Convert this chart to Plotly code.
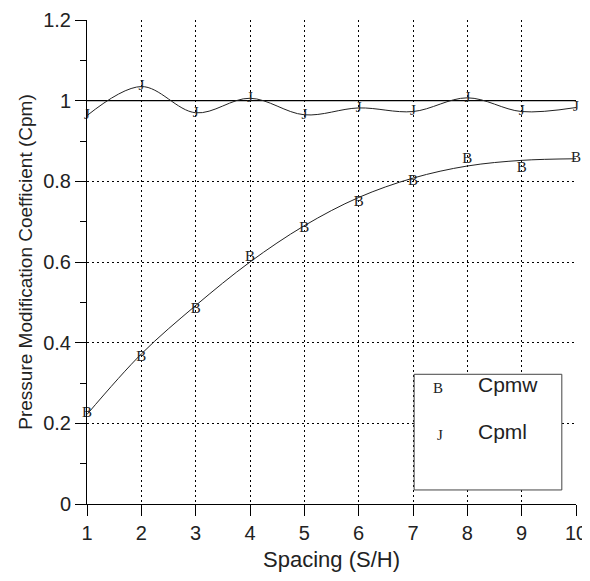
import plotly.graph_objects as go

# spacing values (S/H)
spacing = [1, 2, 3, 4, 5, 6, 7, 8, 9, 10]

# measured points
cpmw = [0.225, 0.365, 0.482, 0.613, 0.684, 0.748, 0.800, 0.855, 0.832, 0.858]
cpml = [0.963, 1.035, 0.970, 1.006, 0.965, 0.982, 0.973, 1.007, 0.973, 0.983]

# fitted curve for cpmw
cpmw_fit = [0.222, 0.372, 0.492, 0.600, 0.690, 0.760, 0.808, 0.838, 0.852, 0.856]

ref_x = [1, 10]
ref_y = [1, 1]

font_sans = "Liberation Sans, Arial, sans-serif"
font_mark = "Liberation Serif, Times New Roman, serif"
ink = "#222222"

fig = go.Figure()

# reference line at Cpm = 1
fig.add_trace(go.Scatter(x=ref_x, y=ref_y, mode="lines",
                         line=dict(color="black", width=1.2), showlegend=False))

# smooth curves
fig.add_trace(go.Scatter(x=spacing, y=cpmw_fit, mode="lines", line_shape="spline",
                         line=dict(color=ink, width=1), showlegend=False))
fig.add_trace(go.Scatter(x=spacing, y=cpml, mode="lines", line_shape="spline",
                         line=dict(color=ink, width=1), showlegend=False))

# letter markers
fig.add_trace(go.Scatter(x=spacing, y=cpmw, mode="text", text=["B"] * len(spacing),
                         textfont=dict(family=font_mark, size=15, color=ink),
                         cliponaxis=False, showlegend=False))
fig.add_trace(go.Scatter(x=spacing, y=cpml, mode="text", text=["J"] * len(spacing),
                         textfont=dict(family=font_mark, size=15, color=ink),
                         cliponaxis=False, showlegend=False))

# legend box drawn by hand
fig.add_shape(type="rect", xref="paper", yref="paper", x0=0.669, x1=0.971, y0=0.029, y1=0.268,
              line=dict(color="#444", width=1), fillcolor="white", layer="above")
for sym, name, yy in [("B", "Cpmw", 0.219), ("J", "Cpml", 0.121)]:
    fig.add_annotation(xref="paper", yref="paper", x=0.732, y=yy, text=sym, showarrow=False,
                       font=dict(family=font_mark, size=15, color=ink))
    fig.add_annotation(xref="paper", yref="paper", x=0.795, y=yy, text=name, showarrow=False,
                       xanchor="left", font=dict(family=font_sans, size=21, color=ink))

# page has an 8px body margin, so the figure is drawn smaller than the window
fig.update_layout(
    width=582, height=565,
    margin=dict(l=79, r=14, t=12, b=69),
    paper_bgcolor="white", plot_bgcolor="white",
    font=dict(family=font_sans, size=20, color=ink),
)
fig.update_xaxes(
    range=[1, 10], dtick=1, tick0=1, automargin=False, ticklabeloverflow="allow",
    showline=True, linecolor="black", linewidth=1,
    ticks="outside", ticklen=11, tickcolor="black",
    tickfont=dict(size=20),
    showgrid=True, gridcolor="black", gridwidth=1, griddash="2px,3px",
    zeroline=False,
    title=dict(text="Spacing (S/H)", font=dict(size=22), standoff=8),
)
fig.update_yaxes(
    range=[0, 1.2], dtick=0.2, automargin=False, ticklabeloverflow="allow",
    showline=True, linecolor="black", linewidth=1,
    ticks="outside", ticklen=11, tickcolor="black",
    tickfont=dict(size=20),
    showgrid=True, gridcolor="black", gridwidth=1, griddash="2px,3px",
    zeroline=False,
    minor=dict(dtick=0.1, ticks="outside", ticklen=6, tickcolor="black", showgrid=False),
    title=dict(text="Pressure Modification Coefficient (Cpm)", font=dict(size=19), standoff=5),
)

fig.write_html("out.html")
